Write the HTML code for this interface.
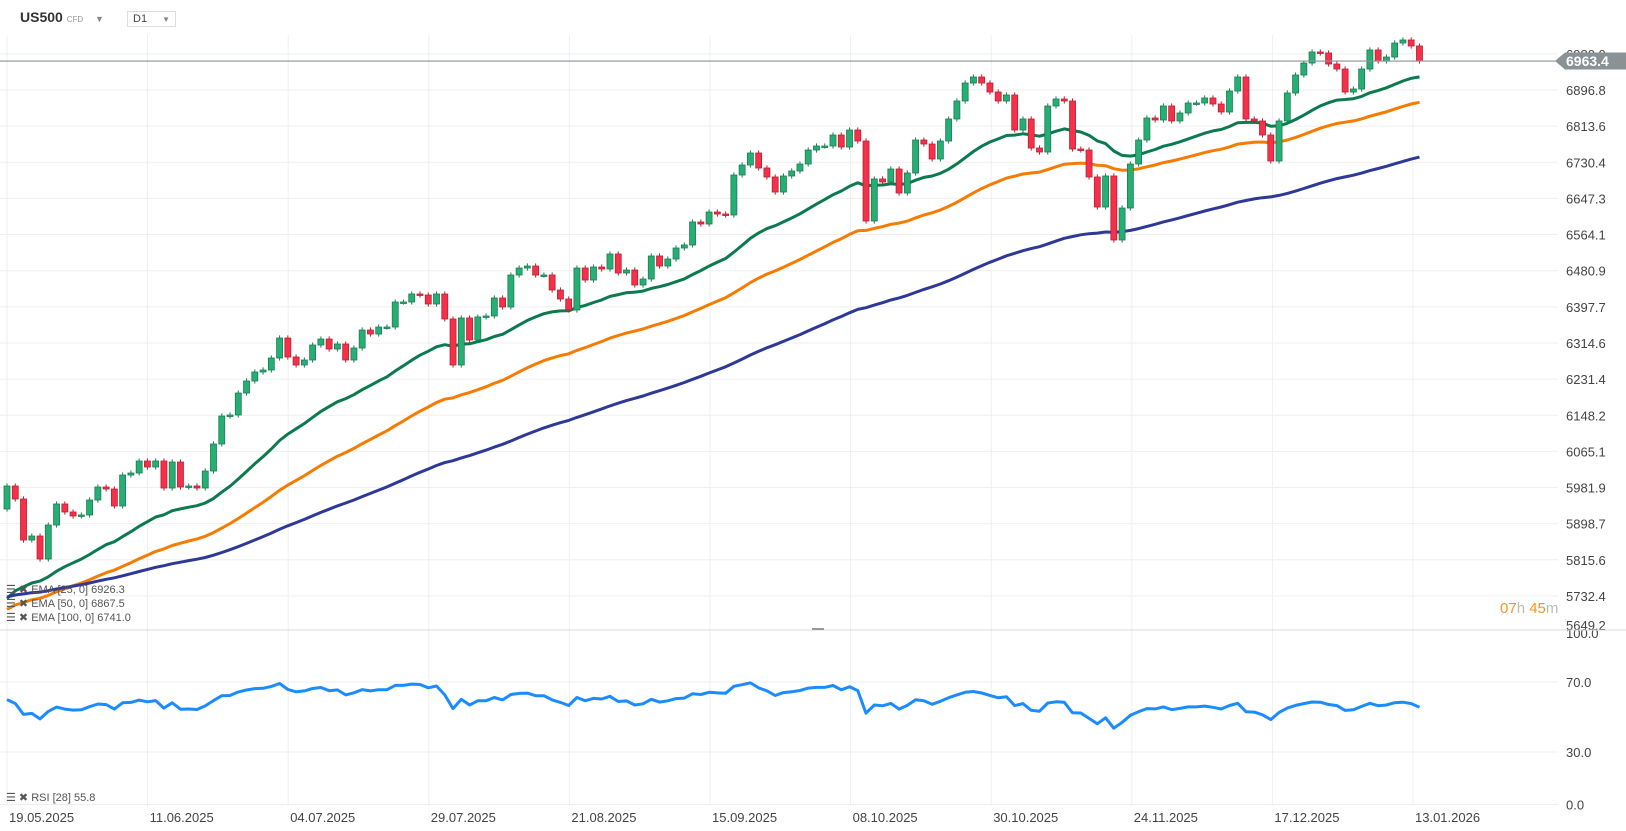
<!DOCTYPE html>
<html><head><meta charset="utf-8"><style>
body{margin:0;background:#fff;width:1626px;height:831px;overflow:hidden;font-family:"Liberation Sans",sans-serif}
svg{position:absolute;left:0;top:0}
</style></head><body>
<svg id="c" width="1626" height="831"></svg>
<script>
const closes=[5985.4,5955.5,5861.1,5870.3,5817.4,5895.6,5944.0,5925.6,5916.4,5918.7,5953.2,5983.1,5978.5,5939.4,6010.7,6015.3,6042.9,6029.1,6042.9,5980.8,6040.6,5983.1,5985.4,5980.8,6019.9,6082.1,6146.5,6148.8,6199.4,6227.1,6247.8,6252.4,6280.0,6326.0,6282.3,6263.9,6275.4,6309.9,6323.7,6300.7,6312.2,6275.4,6303.0,
6344.4,6335.2,6351.3,6351.3,6408.9,6408.9,6427.3,6425.0,6404.3,6427.3,6369.8,6263.9,6372.1,6321.4,6374.4,6376.7,6418.1,6397.4,6471.0,6487.1,6491.7,6471.0,6471.0,6436.5,6415.8,6390.5,6487.1,6459.5,6489.4,6484.8,6519.4,6475.6,6482.5,6448.0,6461.8,6514.8,6491.7,6507.8,6533.2,6540.1,6593.0,
6588.4,6616.0,6611.4,6609.1,6701.2,6724.2,6751.8,6717.3,6696.6,6662.0,6698.9,6710.4,6726.5,6758.7,6767.9,6767.9,6793.2,6765.6,6804.7,6779.4,6595.3,6692.0,6685.1,6715.0,6659.7,6705.8,6781.7,6772.5,6738.0,6779.4,6830.1,6871.5,6912.9,6926.7,6912.9,6892.2,6871.5,6885.3,6804.7,6830.1,6763.3,6754.1,
6860.0,6876.1,6871.5,6761.0,6758.7,6696.6,6627.5,6698.9,6551.6,6625.2,6726.5,6781.7,6832.4,6827.8,6860.0,6825.5,6843.9,6866.9,6866.9,6878.4,6864.6,6846.2,6894.5,6926.7,6830.1,6825.5,6793.2,6733.4,6825.5,6889.9,6931.3,6958.9,6984.3,6982.0,6956.6,6945.1,6892.2,6899.1,6945.1,6988.9,6963.5,6972.7,7005.0,7011.9,6998.1,6963.4];
const firstOpen=5932.5;
const priceTicks=["6980.0","6896.8","6813.6","6730.4","6647.3","6564.1","6480.9","6397.7","6314.6","6231.4","6148.2","6065.1","5981.9","5898.7","5815.6","5732.4","5649.2"];
const rsiTicks=[100,70,30,0];
const dateLabels=["19.05.2025","11.06.2025","04.07.2025","29.07.2025","21.08.2025","15.09.2025","08.10.2025","30.10.2025","24.11.2025","17.12.2025","13.01.2026"];
const emaSeeds=[5705,5690,5725];
const emaPeriods=[25,50,100];

const NS="http://www.w3.org/2000/svg";
const svg=document.getElementById('c');
function el(t,a,p){const e=document.createElementNS(NS,t);for(const k in a)e.setAttribute(k,a[k]);(p||svg).appendChild(e);return e;}
const px=i=>7+8.26*i;
const py=v=>90+(6896.8-v)*0.4345;
const ry=r=>804.5-r*1.75;

dateLabels.forEach((d,k)=>{const x=7+140.6*k;
 const g=el('line',{x1:x,x2:x,y1:35,y2:806,stroke:'#efefef','stroke-width':1});
 
 const t=el('text',{x:x+2,y:822,'font-size':13,fill:'#444'});t.textContent=d;
 });
priceTicks.forEach(s=>{const v=parseFloat(s);const y=py(v);
 if(y<628){const g=el('line',{x1:0,x2:1558,y1:y,y2:y,stroke:'#efefef'});
 }
 const t=el('text',{x:1566,y:Math.min(y,625)+5,'font-size':13,fill:'#444'});t.textContent=s;
 });
rsiTicks.forEach(r=>{const y=ry(r);
 if(r<100){const g=el('line',{x1:0,x2:1558,y1:y,y2:y,stroke:'#efefef'});
 }
 const t=el('text',{x:1566,y:Math.max(y,633)+5,'font-size':13,fill:'#444'});t.textContent=r.toFixed(1);
 });
const sep=el('line',{x1:0,x2:1626,y1:630,y2:630,stroke:'#d8d8d8'});

const hd=el('rect',{x:812,y:628,width:12,height:2,fill:'#999'});


const emaColors=['#0b7a4e','#f57c00','#2e3897'];
emaPeriods.forEach((p,k)=>{const a=2/(p+1);let e=emaSeeds[k];const pts=[];
 closes.forEach((c,i)=>{e=e+a*(c-e);pts.push(px(i).toFixed(1)+','+py(e).toFixed(1));});
 const l=el('polyline',{points:pts.join(' '),fill:'none',stroke:emaColors[k],'stroke-width':3,'stroke-linejoin':'round'});
 });

closes.forEach((c,i)=>{const o=i?closes[i-1]:firstOpen;const up=c>=o;
 const hi=Math.max(o,c)+6,lo=Math.min(o,c)-6;const x=px(i);
 const g=el('g',{});
 
 el('line',{x1:x,x2:x,y1:py(hi),y2:py(lo),stroke:up?'#1b7d52':'#b81f36','stroke-width':1},g);
 const top=py(Math.max(o,c));const h=Math.max(1.5,py(Math.min(o,c))-top);
 el('rect',{x:x-3,y:top,width:6,height:h,fill:up?'#27ae74':'#f5314a',stroke:up?'#1b7d52':'#b81f36','stroke-width':0.8},g);});

let ag=16,al=12;const rp=[];
closes.forEach((c,i)=>{const o=i?closes[i-1]:firstOpen;const d=c-o;
 ag=(ag*27+Math.max(d,0))/28;al=(al*27+Math.max(-d,0))/28;const r=100-100/(1+ag/al);
 rp.push(px(i).toFixed(1)+','+ry(r).toFixed(1));});
const rl=el('polyline',{points:rp.join(' '),fill:'none',stroke:'#1a8cff','stroke-width':3,'stroke-linejoin':'round'});


const last=closes[closes.length-1];const ly=py(last);
const pl=el('line',{x1:0,x2:1560,y1:ly,y2:ly,stroke:'#8a9296','stroke-width':1.2});

const tag=el('polygon',{points:`1555,${ly} 1565,${ly-8.5} 1626,${ly-8.5} 1626,${ly+8.5} 1565,${ly+8.5}`,fill:'#8a9296'});

const tt=el('text',{x:1566,y:ly+5,'font-size':14,'font-weight':'bold',fill:'#fff'});tt.textContent=last.toFixed(1);

</script>
<div style="position:absolute;left:20px;top:9px;font-size:14px;font-weight:bold;color:#333">US500 <span style="font-size:8px;color:#999;font-weight:normal">CFD</span> <span style="font-size:9px;color:#888;margin-left:8px">&#9660;</span></div>
<div style="position:absolute;left:127px;top:11px;width:42px;height:14px;border:1px solid #ddd;font-size:11px;color:#444;line-height:14px;padding-left:5px;box-sizing:content-box">D1 <span style="font-size:8px;color:#888;margin-left:12px">&#9660;</span></div>
<div style="position:absolute;left:6px;top:583px;font-size:11px;color:#555;line-height:14px">
<div>&#9776; &#10006; EMA [25, 0] 6926.3</div>
<div>&#9776; &#10006; EMA [50, 0] 6867.5</div>
<div>&#9776; &#10006; EMA [100, 0] 6741.0</div></div>
<div style="position:absolute;left:6px;top:791px;font-size:11px;color:#555">&#9776; &#10006; RSI [28] 55.8</div>
<div style="position:absolute;left:1500px;top:600px;font-size:15px;color:#f7931e">07<span style="color:#bbb">h</span> 45<span style="color:#bbb">m</span></div>
</body></html>
